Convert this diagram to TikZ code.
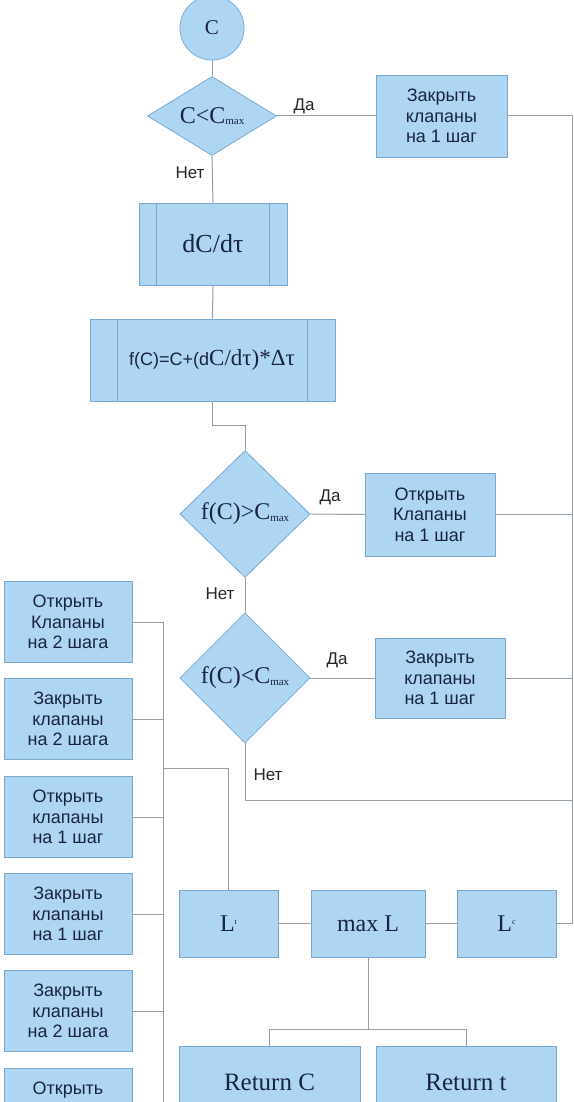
\documentclass[tikz,border=0pt]{standalone}
\usepackage{fontspec}
\setmainfont{Liberation Sans}
\newfontfamily\serf{Liberation Serif}
\usetikzlibrary{shapes.geometric}
\definecolor{boxfill}{RGB}{174,214,242}
\definecolor{boxline}{RGB}{120,168,208}
\definecolor{wirec}{RGB}{150,158,170}
\definecolor{ink}{RGB}{25,35,65}
\newcommand\cmx{C\raisebox{-1.5pt}{\fontsize{11}{11}\selectfont max}}
\begin{document}
\begin{tikzpicture}[x=1pt,y=-1pt,
  blk/.style={rectangle, fill=boxfill, draw=boxline, line width=0.8pt, inner sep=0pt, align=center, text=ink, font=\fontsize{18}{20.5}\selectfont},
  dia/.style={diamond, fill=boxfill, draw=boxline, line width=0.8pt, inner sep=0pt},
  wire/.style={draw=wirec, line width=1pt},
  lbl/.style={font=\fontsize{17}{17}\selectfont, text=black!85, inner sep=0pt},
  stxt/.style={font=\serf\fontsize{24}{24}\selectfont},
  dtxt/.style={font=\serf\fontsize{24}{24}\selectfont, text=ink, inner sep=0pt}
]
\useasboundingbox (0,0) rectangle (573,1102);
\clip (0,0) rectangle (573,1102);
\fill[white] (0,0) rectangle (573,1102);

% main column
\node[circle, fill=boxfill, draw=boxline, line width=0.8pt, minimum size=64pt, inner sep=0pt, font=\serf\fontsize{21}{21}\selectfont, text=ink] (c) at (212,28) {C};
\node[dia, minimum width=129pt, minimum height=79pt] (d1) at (212,116) {};
\node[dtxt] (d1t) at (d1) {C<\cmx};
\node[blk, minimum width=131pt, minimum height=82pt] (bz1) at (441.5,116) {Закрыть\\клапаны\\на 1 шаг};

\node[blk, minimum width=148pt, minimum height=82pt, font=\serf\fontsize{26}{26}\selectfont] (dc) at (213,244) {dC/dτ};
\draw[draw=boxline, line width=0.8pt] ([xshift=18pt]dc.north west) -- ([xshift=18pt]dc.south west);
\draw[draw=boxline, line width=0.8pt] ([xshift=-18pt]dc.north east) -- ([xshift=-18pt]dc.south east);

\node[blk, minimum width=245pt, minimum height=82pt] (fc) at (212.5,360) {};
\draw[draw=boxline, line width=0.8pt] ([xshift=28pt]fc.north west) -- ([xshift=28pt]fc.south west);
\draw[draw=boxline, line width=0.8pt] ([xshift=-28pt]fc.north east) -- ([xshift=-28pt]fc.south east);
\node[inner sep=0pt, text=ink] (fct) at (212,360) {{\fontsize{18}{18}\selectfont f(C)=C+(d}{\serf\fontsize{23}{23}\selectfont C/dτ)*Δτ}};

\node[dia, minimum width=130pt, minimum height=127pt] (d2) at (245,514) {};
\node[dtxt] (d2t) at (d2) {f(C)>\cmx};
\node[blk, minimum width=130pt, minimum height=83pt] (bo2) at (430,514.5) {Открыть\\Клапаны\\на 1 шаг};

\node[dia, minimum width=130pt, minimum height=130pt] (d3) at (245,678) {};
\node[dtxt] (d3t) at (d3) {f(C)<\cmx};
\node[blk, minimum width=130pt, minimum height=80pt] (bz3) at (440,678) {Закрыть\\клапаны\\на 1 шаг};

% L row
\node[blk, minimum width=99pt, minimum height=67pt, stxt] (Lt) at (228.5,923.5) {L\raisebox{7pt}{\fontsize{8}{8}\selectfont t}};
\node[blk, minimum width=114pt, minimum height=67pt, stxt] (mL) at (368,923.5) {max L};
\node[blk, minimum width=99pt, minimum height=67pt, stxt] (Lc) at (506.5,923.5) {L\raisebox{7pt}{\fontsize{8}{8}\selectfont c}};

\node[blk, minimum width=181pt, minimum height=72pt, font=\serf\fontsize{25}{25}\selectfont] (rc) at (269.5,1082) {Return C};
\node[blk, minimum width=180pt, minimum height=72pt, font=\serf\fontsize{25}{25}\selectfont] (rt) at (466,1082) {Return t};

% left column
\node[blk, minimum width=128pt, minimum height=81pt] (lb1) at (68,622) {Открыть\\Клапаны\\на 2 шага};
\node[blk, minimum width=128pt, minimum height=81pt] (lb2) at (68,719) {Закрыть\\клапаны\\на 2 шага};
\node[blk, minimum width=128pt, minimum height=81pt] (lb3) at (68,817) {Открыть\\клапаны\\на 1 шаг};
\node[blk, minimum width=128pt, minimum height=81pt] (lb4) at (68,914) {Закрыть\\клапаны\\на 1 шаг};
\node[blk, minimum width=128pt, minimum height=81pt] (lb5) at (68,1011) {Закрыть\\клапаны\\на 2 шага};
\node[blk, minimum width=128pt, minimum height=81pt] (lb6) at (68,1109) {Открыть\\\phantom{к}\\\phantom{н}};

% coordinates
\coordinate (r1) at (572,116);
\coordinate (r2) at (572,514.5);
\coordinate (r3) at (572,678);
\coordinate (r4) at (572,800);
\coordinate (r5) at (572,923.5);
\coordinate (j1) at (212.5,425);
\coordinate (lt) at (163,622);
\coordinate (lbot) at (163,1110);
\coordinate (lj) at (163,768);
\coordinate (mj) at (368,1029);

% wires
\draw[wire] (c) -- (d1);
\draw[wire] (d1.east) -- (bz1.west);
\draw[wire] (bz1.east) -- (r1) -- (r5) -- (Lc.east);
\draw[wire] (d1.south) -- (dc.north);
\draw[wire] (dc.south) -- (fc.north);
\draw[wire] (fc.south) -- (j1) -| (d2.north);
\draw[wire] (d2.east) -- (bo2.west);
\draw[wire] (bo2.east) -- (r2);
\draw[wire] (d2.south) -- (d3.north);
\draw[wire] (d3.east) -- (bz3.west);
\draw[wire] (bz3.east) -- (r3);
\draw[wire] (d3.south) |- (r4);
\draw[wire] (Lt.east) -- (mL.west);
\draw[wire] (mL.east) -- (Lc.west);
\draw[wire] (mL.south) -- (mj);
\draw[wire] (mj) -| (rc.north);
\draw[wire] (mj) -| (rt.north);
\draw[wire] (lb1.east) -- (lt) -- (lbot);
\draw[wire] (lb2.east) -- (lb2.east -| lt);
\draw[wire] (lb3.east) -- (lb3.east -| lt);
\draw[wire] (lb4.east) -- (lb4.east -| lt);
\draw[wire] (lb5.east) -- (lb5.east -| lt);
\draw[wire] (lj) -| (Lt.north);

% labels
\node[lbl] (y1) at (304,106) {Да};
\node[lbl] (n1) at (190,173) {Нет};
\node[lbl] (y2) at (330,497) {Да};
\node[lbl] (n2) at (220,594) {Нет};
\node[lbl] (y3) at (337,660) {Да};
\node[lbl] (n3) at (268,775) {Нет};
\end{tikzpicture}
\end{document}
